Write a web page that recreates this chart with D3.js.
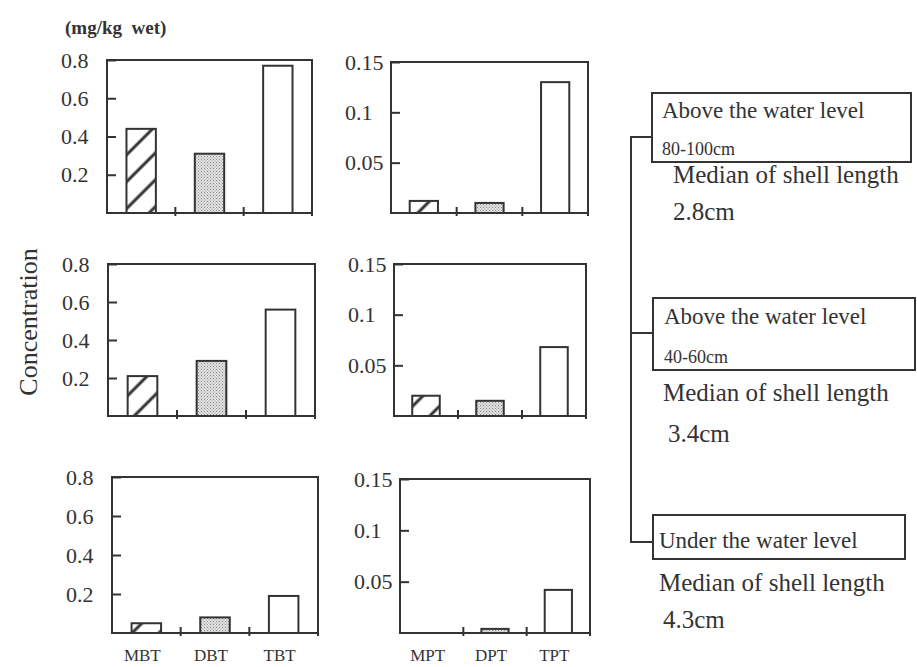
<!DOCTYPE html>
<meta charset="utf-8">
<style>
    body { margin: 0; background: #fff; }
    svg text { font-family: 'Liberation Serif', 'Times New Roman', serif; fill: #333; }
</style>
<svg width="917" height="667"></svg>
<script src="https://d3js.org/d3.v7.min.js"></script>
<script>
    // categories
    var butylCats = ["MBT", "DBT", "TBT"];
    var phenylCats = ["MPT", "DPT", "TPT"];

    // concentrations (mg/kg wet), one row per sampling level
    var butylAbove80 = [0.44, 0.31, 0.77];
    var butylAbove40 = [0.21, 0.29, 0.56];
    var butylUnder = [0.05, 0.08, 0.19];
    var phenylAbove80 = [0.012, 0.010, 0.130];
    var phenylAbove40 = [0.020, 0.015, 0.068];
    var phenylUnder = [0.0, 0.004, 0.042];

    // axis ticks
    var butylTicks = [0.2, 0.4, 0.6, 0.8];
    var phenylTicks = [0.05, 0.1, 0.15];

    // site labels
    var siteTitles = ["Above the water level", "Above the water level", "Under the water level"];
    var siteDepths = ["80-100cm", "40-60cm", ""];
    var shellLengths = ["2.8cm", "3.4cm", "4.3cm"];

    var svg = d3.select("svg");
    var ink = "#333";

    // patterns for the bars
    var defs = svg.append("defs");
    var hatch = defs.append("pattern")
        .attr("id", "hatch")
        .attr("patternUnits", "userSpaceOnUse")
        .attr("width", 19).attr("height", 19)
        .attr("patternTransform", "rotate(45)");
    hatch.append("rect").attr("width", 19).attr("height", 19).attr("fill", "#fff");
    hatch.append("line")
        .attr("x1", 9).attr("y1", 0).attr("x2", 9).attr("y2", 19)
        .attr("stroke", ink).attr("stroke-width", 3);

    var dots = defs.append("pattern")
        .attr("id", "dots")
        .attr("patternUnits", "userSpaceOnUse")
        .attr("width", 3).attr("height", 3);
    dots.append("rect").attr("width", 3).attr("height", 3).attr("fill", "#e2e2e2");
    dots.append("rect").attr("width", 1).attr("height", 1).attr("fill", "#888");
    dots.append("rect").attr("x", 1.5).attr("y", 1.5).attr("width", 1).attr("height", 1).attr("fill", "#999");

    var fills = ["url(#hatch)", "url(#dots)", "#fff"];

    // panel frames
    var panels = [
        {cats: butylCats, vals: butylAbove80, ticks: butylTicks, max: 0.8, x0: 107, x1: 312, y0: 60, y1: 213},
        {cats: phenylCats, vals: phenylAbove80, ticks: phenylTicks, max: 0.15, x0: 391, x1: 588, y0: 62, y1: 213},
        {cats: butylCats, vals: butylAbove40, ticks: butylTicks, max: 0.8, x0: 108, x1: 315, y0: 264, y1: 416},
        {cats: phenylCats, vals: phenylAbove40, ticks: phenylTicks, max: 0.15, x0: 394, x1: 586, y0: 264, y1: 416},
        {cats: butylCats, vals: butylUnder, ticks: butylTicks, max: 0.8, x0: 112, x1: 318, y0: 477, y1: 633, labels: true},
        {cats: phenylCats, vals: phenylUnder, ticks: phenylTicks, max: 0.15, x0: 400, x1: 590, y0: 479, y1: 633, labels: true}
    ];

    panels.forEach(function (p) {
        var x = d3.scaleBand()
            .domain(p.cats)
            .range([p.x0, p.x1])
            .paddingInner(0.57)
            .paddingOuter(0.285);
        var y = d3.scaleLinear()
            .domain([0, p.max])
            .range([p.y1, p.y0]);

        var g = svg.append("g");

        // bars
        g.selectAll("rect.bar")
            .data(p.vals)
            .enter().append("rect")
            .attr("class", "bar")
            .attr("x", function (d, i) { return x(p.cats[i]); })
            .attr("y", function (d) { return y(d); })
            .attr("width", x.bandwidth())
            .attr("height", function (d) { return y(0) - y(d); })
            .attr("fill", function (d, i) { return fills[i]; })
            .attr("stroke", ink)
            .attr("stroke-width", 2)
            .style("display", function (d) { return d > 0 ? null : "none"; });

        // frame
        g.append("rect")
            .attr("x", p.x0).attr("y", p.y0)
            .attr("width", p.x1 - p.x0).attr("height", p.y1 - p.y0)
            .attr("fill", "none")
            .attr("stroke", ink)
            .attr("stroke-width", 2);

        // y axis, ticks point inward
        var yAxis = g.append("g")
            .attr("transform", "translate(" + p.x0 + ",0)")
            .call(d3.axisLeft(y).tickValues(p.ticks).tickSizeInner(-9).tickSizeOuter(0).tickFormat(function (d) { return String(d); }));
        yAxis.select(".domain").remove();
        yAxis.selectAll("line").attr("stroke", ink).attr("stroke-width", 2);
        yAxis.selectAll("text")
            .attr("x", -46)
            .attr("text-anchor", "start")
            .attr("font-size", 22)
            .attr("fill", ink);

        // x ticks on the category boundaries
        var step = x.step();
        var bounds = [1, 2, 3].map(function (k) { return p.x0 + k * step; });
        g.selectAll("line.xt")
            .data(bounds)
            .enter().append("line")
            .attr("x1", function (d) { return d; })
            .attr("x2", function (d) { return d; })
            .attr("y1", p.y1 - 6)
            .attr("y2", p.y1 + 3)
            .attr("stroke", ink)
            .attr("stroke-width", 2);

        if (p.labels) {
            g.selectAll("text.cat")
                .data(p.cats)
                .enter().append("text")
                .attr("x", function (d) { return x(d) + x.bandwidth() / 2 - 4; })
                .attr("y", 661)
                .attr("text-anchor", "middle")
                .attr("font-size", 17)
                .text(function (d) { return d; });
        }
    });

    // unit and axis title
    svg.append("text")
        .attr("x", 65).attr("y", 34)
        .attr("font-size", 19)
        .attr("font-weight", "bold")
        .attr("xml:space", "preserve")
        .text("(mg/kg  wet)");

    svg.append("text")
        .attr("transform", "translate(37,322) rotate(-90)")
        .attr("text-anchor", "middle")
        .attr("font-size", 26)
        .text("Concentration");

    // bracket tying the sampling levels together
    var boxes = [
        {x: 652, y: 93, w: 259, h: 69, link: 137, tx: 662, ty: 118, dy: 155, mx: 673, my: 183, ly: 220, lx: 673},
        {x: 653, y: 298, w: 262, h: 72, link: 333, tx: 664, ty: 324, dy: 363, mx: 663, my: 401, ly: 442, lx: 668},
        {x: 653, y: 515, w: 252, h: 44, link: 542, tx: 659, ty: 548, dy: 0, mx: 659, my: 591, ly: 628, lx: 663}
    ];
    var bx = 631;

    svg.append("line")
        .attr("x1", bx).attr("x2", bx)
        .attr("y1", boxes[0].link).attr("y2", boxes[2].link)
        .attr("stroke", ink).attr("stroke-width", 2);

    boxes.forEach(function (b, i) {
        svg.append("line")
            .attr("x1", bx - 1).attr("x2", b.x)
            .attr("y1", b.link).attr("y2", b.link)
            .attr("stroke", ink).attr("stroke-width", 2);
        svg.append("rect")
            .attr("x", b.x).attr("y", b.y)
            .attr("width", b.w).attr("height", b.h)
            .attr("fill", "none")
            .attr("stroke", ink).attr("stroke-width", 2);
        svg.append("text")
            .attr("x", b.tx).attr("y", b.ty)
            .attr("font-size", 23)
            .text(siteTitles[i]);
        if (siteDepths[i]) {
            svg.append("text")
                .attr("x", b.tx).attr("y", b.dy)
                .attr("font-size", 18)
                .text(siteDepths[i]);
        }
        svg.append("text")
            .attr("x", b.mx).attr("y", b.my)
            .attr("font-size", 25)
            .text("Median of shell length");
        svg.append("text")
            .attr("x", b.lx).attr("y", b.ly)
            .attr("font-size", 25)
            .text(shellLengths[i]);
    });
</script>
